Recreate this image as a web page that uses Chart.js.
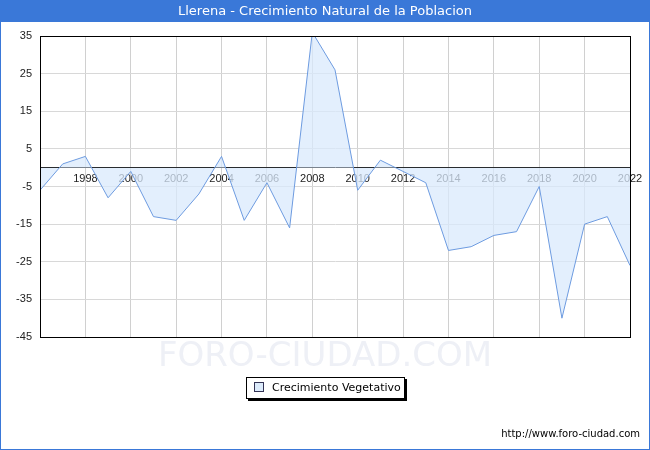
<!DOCTYPE html>
<html><head><meta charset="utf-8">
<script src="https://cdn.jsdelivr.net/npm/chart.js@4"></script>
<style>
body{margin:0;width:650px;height:450px;position:relative;font-family:"DejaVu Sans",sans-serif;overflow:hidden}
#frame{position:absolute;left:0;top:0;width:648px;height:448px;border:1px solid #3a78d8}
#title{position:absolute;left:0;top:0;width:650px;height:22px;background:#3a78d8;color:#fff;font-size:13px;text-align:center;line-height:22px}
#wrap{position:absolute;left:0;top:0;width:650px;height:450px}
#legend{position:absolute;left:246px;top:377px;width:157px;height:20px;border:1px solid #000;box-shadow:2px 2px 0 #000;background:#fff;font-size:11px;line-height:20px}
#legend span{display:inline-block;width:8px;height:8px;border:1px solid #335;background:#dcebfb;margin:0 8px 0 7px;vertical-align:-1px}
#wm{position:absolute;left:0;width:650px;top:334px;text-align:center;font-size:34px;color:#eef0f6}
#url{position:absolute;right:10px;top:428px;font-size:10px}
</style></head><body>
<div id="wrap"><canvas id="c" width="650" height="450"></canvas></div>
<div id="wm">FORO-CIUDAD.COM</div>
<div id="frame"></div>
<div id="title">Llerena - Crecimiento Natural de la Poblacion</div>
<div id="legend"><span></span>Crecimiento Vegetativo</div>
<div id="url">http://www.foro-ciudad.com</div>
<script>
const years = [1996,1997,1998,1999,2000,2001,2002,2003,2004,2005,2006,2007,2008,2009,2010,2011,2012,2013,2014,2015,2016,2017,2018,2019,2020,2021,2022];
const growth = [-6,1,3,-8,-1,-13,-14,-7,3,-14,-4,-16,36,26,-6,2,-1,-4,-22,-21,-18,-17,-5,-40,-15,-13,-26];
const yTicks = [35,25,15,5,-5,-15,-25,-35,-45];

new Chart(document.getElementById("c"), {
    type: "line",
    data: {
        datasets: [{
            data: years.map((y, i) => ({x: y, y: growth[i]})),
            borderColor: "#6d9be0",
            borderWidth: 1,
            backgroundColor: "rgba(218,234,252,0.75)",
            fill: "origin",
            pointRadius: 0,
            tension: 0
        }]
    },
    options: {
        animation: false,
        responsive: false,
        layout: {padding: {left: 0, top: 36, right: 20, bottom: 113}},
        plugins: {legend: {display: false}, tooltip: {enabled: false}},
        scales: {
            x: {
                type: "linear", min: 1996, max: 2022,
                position: {y: 0},
                grid: {color: "#d0d0d0", drawTicks: false},
                border: {color: "#000", width: 1},
                ticks: {stepSize: 2, color: "#222", font: {size: 11}, padding: 5,
                    callback: v => v === 1996 ? "" : String(v)}
            },
            y: {
                min: -45, max: 35,
                afterBuildTicks: s => { s.ticks = yTicks.map(v => ({value: v})); },
                afterFit: s => { s.width = 40; },
                grid: {color: "#d8d8d8", drawTicks: false},
                border: {color: "#000"},
                ticks: {color: "#222", font: {size: 11}, padding: 8}
            }
        }
    },
    plugins: [{
        id: "box",
        afterDraw(chart) {
            const a = chart.chartArea, ctx = chart.ctx;
            ctx.save(); ctx.strokeStyle = "#000"; ctx.lineWidth = 1;
            ctx.strokeRect(a.left + 0.5, a.top + 0.5, a.right - a.left, a.bottom - a.top);
            ctx.restore();
        }
    }]
});
</script>
</body></html>
